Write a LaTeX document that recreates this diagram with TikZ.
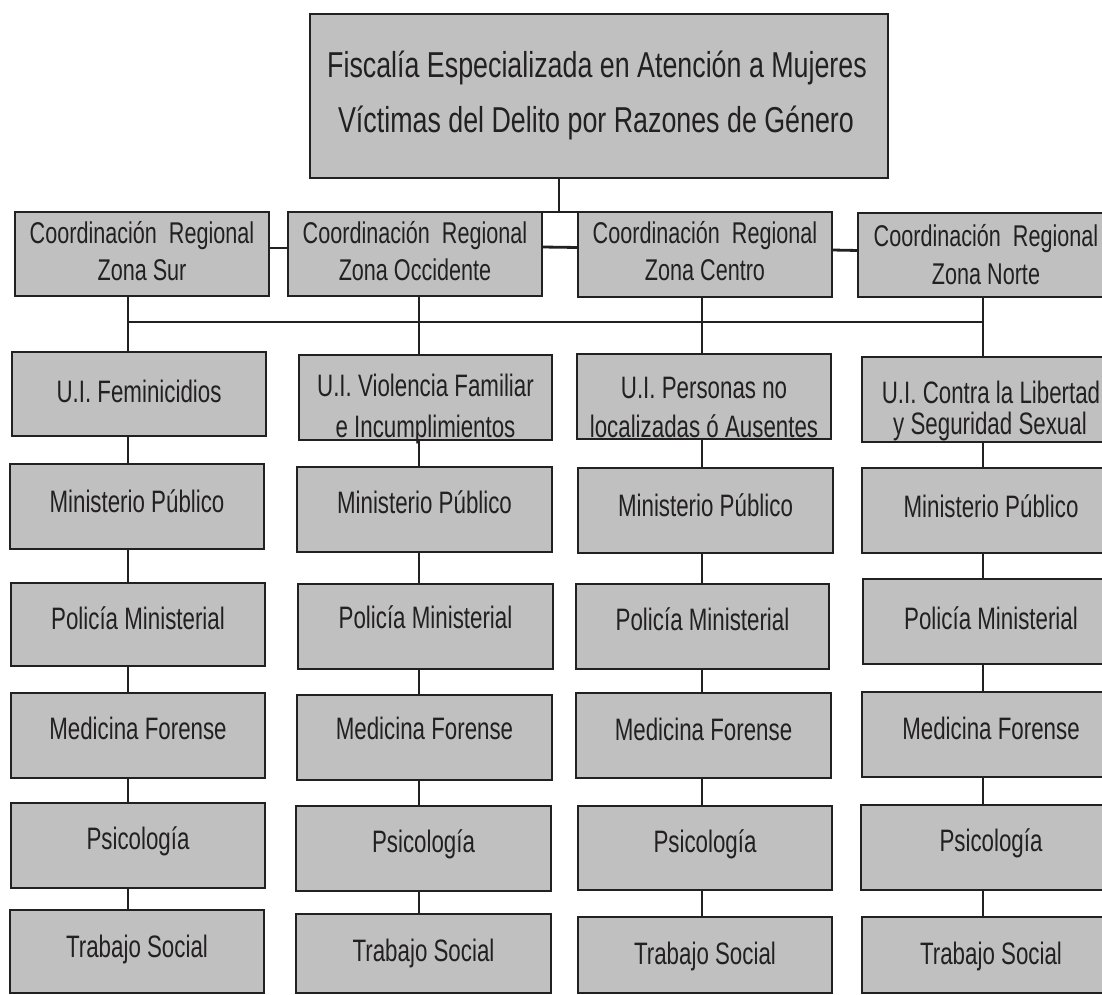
\documentclass[tikz,border=0pt]{standalone}
\usepackage{fontspec}
\setmainfont{Liberation Sans}[FakeStretch=0.72]
\newfontfamily\topfont{Liberation Sans}[FakeStretch=0.745]
\usetikzlibrary{calc}
\definecolor{boxgray}{RGB}{192,192,192}
\definecolor{ink}{RGB}{34,32,33}
\tikzset{
  bx/.style={draw=ink, fill=boxgray, line width=2.8pt, rectangle, inner sep=0pt, outer sep=0pt},
  tx/.style={text=ink, inner sep=0pt, anchor=base, font=\fontsize{31}{37}\selectfont},
  ctx/.style={tx, font=\fontsize{30}{36}\selectfont},
  ttx/.style={tx, font=\topfont\fontsize{36}{44}\selectfont},
  wire/.style={draw=ink, line width=2.8pt},
}
% name, x1, y1, x2, y2
\newcommand\mkbox[5]{%
  \node[bx, minimum width={(#4-#2)*1pt}, minimum height={(#5-#3)*1pt}] (#1) at ({(#2+#4)/2},{(#3+#5)/2}) {};}
% name of text node, box, offset from top, style, text
\newcommand\mktext[5]{%
  \node[#4] (#1) at ($(#2.north)+(0,#3)$) {#5};}
\begin{document}
\begin{tikzpicture}[x=1pt,y=-1pt]
\useasboundingbox (0,0) rectangle (1102,995);
\fill[white] (0,0) rectangle (1102,995);

% ---------- top ----------
\mkbox{top}{310}{14}{888}{178}
\node[ttx] (topa) at (597,78) {Fiscalía Especializada en Atención a Mujeres};
\node[ttx] (topb) at (596,133) {Víctimas del Delito por Razones de Género};

% ---------- coordinations ----------
\mkbox{sur}{15}{212}{269}{296}
\mkbox{occ}{288}{212}{542}{296}
\mkbox{cen}{578}{212}{832}{297}
\mkbox{nor}{858}{213}{1112}{297}
\mktext{sura}{sur}{31}{ctx}{Coordinación\ \ Regional}
\mktext{surb}{sur}{68}{ctx}{Zona Sur}
\mktext{occa}{occ}{31}{ctx}{Coordinación\ \ Regional}
\mktext{occb}{occ}{68}{ctx}{Zona Occidente}
\mktext{cena}{cen}{31}{ctx}{Coordinación\ \ Regional}
\mktext{cenb}{cen}{68}{ctx}{Zona Centro}
\node[ctx] (nora) at (986,246) {Coordinación\ \ Regional};
\node[ctx] (norb) at (986,284) {Zona Norte};

% ---------- column 1 ----------
\mkbox{ua}{12}{352}{266}{436}
\mkbox{ma}{10}{464}{264}{549}
\mkbox{pa}{11}{583}{265}{666}
\mkbox{fa}{11}{693}{265}{778}
\mkbox{sa}{11}{803}{265}{888}
\mkbox{ta}{10}{910}{264}{993}
% ---------- column 2 ----------
\mkbox{ub}{299}{355}{552}{440}
\mkbox{mb}{297}{467}{552}{552}
\mkbox{pb}{298}{584}{553}{669}
\mkbox{fb}{297}{695}{552}{780}
\mkbox{sb}{296}{806}{551}{891}
\mkbox{tb}{296}{914}{551}{993}
% ---------- column 3 ----------
\mkbox{uc}{577}{354}{831}{439}
\mkbox{mc}{578}{468}{833}{553}
\mkbox{pc}{576}{584}{829}{669}
\mkbox{fc}{576}{693}{831}{778}
\mkbox{sc}{578}{806}{832}{890}
\mkbox{tc}{578}{917}{832}{993}
% ---------- column 4 ----------
\mkbox{ud}{862}{357}{1114}{442}
\mkbox{md}{862}{468}{1114}{553}
\mkbox{pd}{863}{579}{1114}{664}
\mkbox{fd}{862}{692}{1114}{777}
\mkbox{sd}{861}{805}{1114}{890}
\mkbox{td}{862}{917}{1114}{993}

% ---------- texts ----------
\mktext{tua}{ua}{50}{tx}{U.I. Feminicidios}
\mktext{tuba}{ub}{41}{tx}{U.I. Violencia Familiar}
\mktext{tubb}{ub}{82}{tx}{e Incumplimientos}
\mktext{tuca}{uc}{44}{tx}{U.I. Personas no}
\mktext{tucb}{uc}{83}{tx}{localizadas ó Ausentes}
\node[tx] (tuda) at (991,403) {U.I. Contra la Libertad};
\node[tx] (tudb) at (990,434) {y Seguridad Sexual};

\mktext{tma}{ma}{48}{tx}{Ministerio Público}
\mktext{tmb}{mb}{46}{tx}{Ministerio Público}
\mktext{tmc}{mc}{48}{tx}{Ministerio Público}
\node[tx] (tmd) at (991,517) {Ministerio Público};
\mktext{tpa}{pa}{46}{tx}{Policía Ministerial}
\mktext{tpb}{pb}{44}{tx}{Policía Ministerial}
\mktext{tpc}{pc}{46}{tx}{Policía Ministerial}
\node[tx] (tpd) at (991,629) {Policía Ministerial};
\mktext{tfa}{fa}{46}{tx}{Medicina Forense}
\mktext{tfb}{fb}{44}{tx}{Medicina Forense}
\mktext{tfc}{fc}{47}{tx}{Medicina Forense}
\node[tx] (tfd) at (991,739) {Medicina Forense};
\mktext{tsa}{sa}{46}{tx}{Psicología}
\mktext{tsb}{sb}{46}{tx}{Psicología}
\mktext{tsc}{sc}{46}{tx}{Psicología}
\node[tx] (tsd) at (991,851) {Psicología};
\mktext{tta}{ta}{47}{tx}{Trabajo Social}
\mktext{ttb}{tb}{47}{tx}{Trabajo Social}
\mktext{ttc}{tc}{47}{tx}{Trabajo Social}
\node[tx] (ttd) at (991,964) {Trabajo Social};

% ---------- connectors ----------
\coordinate (j0) at (559,212);
\coordinate (ca) at (128,0);
\coordinate (cb) at (419,0);
\coordinate (cc) at (702,0);
\coordinate (cd) at (983,0);
\coordinate (bus1) at (128,322);
\coordinate (bus4) at (983,322);
\draw[wire] (top.south -| j0) -- (j0);
\draw[wire] (occ.north east) -- (cen.north west);
\draw[wire] ([yshift=6pt]sur.east) -- ([yshift=6pt]occ.west);
\draw[wire] ([yshift=7pt]occ.east) -- ([yshift=7pt]cen.west);
\draw[wire] ([yshift=4.5pt]cen.east) -- ([yshift=4.5pt]nor.west);
\draw[wire] (bus1) -- (bus4);
\draw[wire] (sur.south -| ca) -- (ua.north -| ca);
\draw[wire] (occ.south -| cb) -- (ub.north -| cb);
\draw[wire] (cen.south -| cc) -- (uc.north -| cc);
\draw[wire] (nor.south -| cd) -- (ud.north -| cd);
\foreach \c in {a,b,c,d}{
  \draw[wire] (u\c.south -| c\c) -- (m\c.north -| c\c);
  \draw[wire] (m\c.south -| c\c) -- (p\c.north -| c\c);
  \draw[wire] (p\c.south -| c\c) -- (f\c.north -| c\c);
  \draw[wire] (f\c.south -| c\c) -- (s\c.north -| c\c);
  \draw[wire] (s\c.south -| c\c) -- (t\c.north -| c\c);
}
\end{tikzpicture}
\end{document}
